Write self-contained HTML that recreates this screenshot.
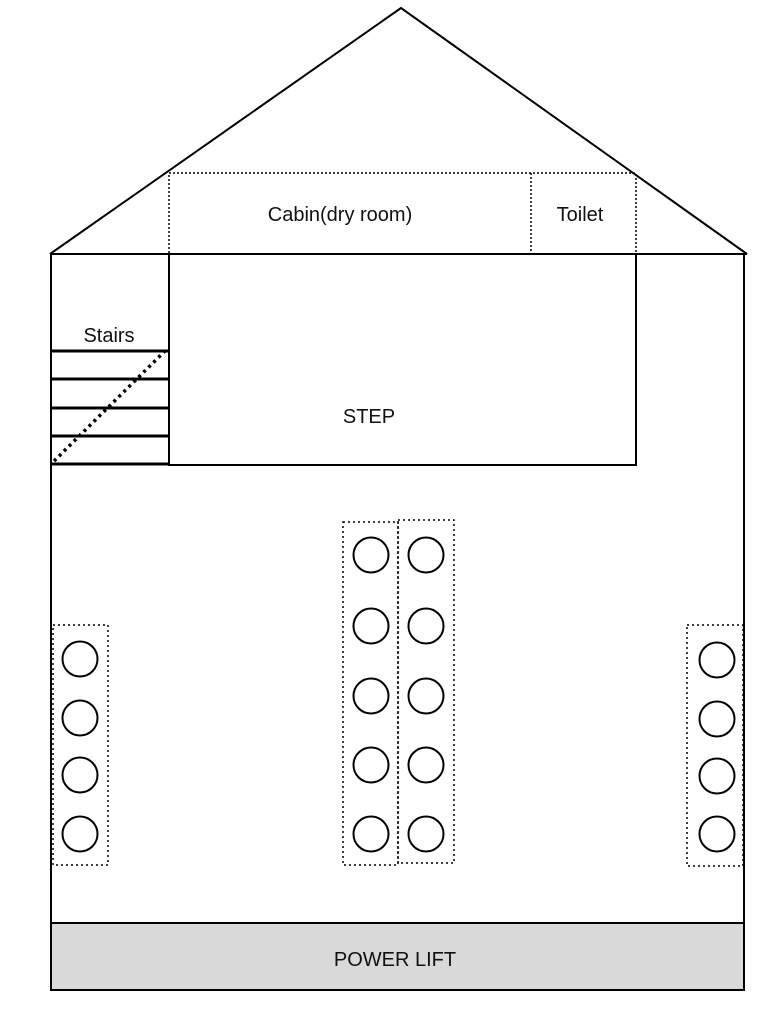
<!DOCTYPE html>
<html><head><meta charset="utf-8"><style>
html,body{margin:0;padding:0;background:#fff;width:778px;height:1024px;overflow:hidden}
text{font-family:"Liberation Sans",sans-serif;font-size:20px;fill:#111}
</style></head><body>
<svg width="778" height="1024" viewBox="0 0 778 1024" xmlns="http://www.w3.org/2000/svg">
<g fill="none" stroke="#000">
<polyline points="50,254 401,8 747,254" stroke-width="2"/>
<rect x="169" y="173" width="467" height="81" stroke-width="1.5" stroke-dasharray="2,2"/>
<line x1="531" y1="173" x2="531" y2="254" stroke-width="1.5" stroke-dasharray="2,2"/>
<line x1="50" y1="254" x2="747" y2="254" stroke-width="2"/>
<line x1="51" y1="254" x2="51" y2="990" stroke-width="2"/>
<line x1="744" y1="254" x2="744" y2="990" stroke-width="2"/>
<rect x="51" y="923" width="693" height="67" fill="#d9d9d9" stroke-width="2"/>
<rect x="169" y="254" width="467" height="211" stroke-width="2"/>
<g stroke-width="3">
<line x1="51" y1="351" x2="169" y2="351"/>
<line x1="51" y1="379" x2="169" y2="379"/>
<line x1="51" y1="408" x2="169" y2="408"/>
<line x1="51" y1="436" x2="169" y2="436"/>
<line x1="51" y1="464" x2="169" y2="464"/>
</g>
<line x1="54" y1="461" x2="166" y2="350" stroke-width="3.5" stroke-dasharray="3,4"/>
<g stroke-width="1.5" stroke-dasharray="2,3">
<rect x="53" y="625" width="55" height="240"/>
<rect x="687" y="625" width="56" height="241"/>
<rect x="343" y="522" width="55" height="343"/>
<rect x="398" y="520" width="56" height="343"/>
</g>
<g stroke-width="2">
<circle cx="80" cy="659" r="17.5"/><circle cx="80" cy="718" r="17.5"/><circle cx="80" cy="775" r="17.5"/><circle cx="80" cy="834" r="17.5"/>
<circle cx="717" cy="660" r="17.5"/><circle cx="717" cy="719" r="17.5"/><circle cx="717" cy="776" r="17.5"/><circle cx="717" cy="834" r="17.5"/>
<circle cx="371" cy="555" r="17.5"/><circle cx="371" cy="626" r="17.5"/><circle cx="371" cy="696" r="17.5"/><circle cx="371" cy="765" r="17.5"/><circle cx="371" cy="834" r="17.5"/>
<circle cx="426" cy="555" r="17.5"/><circle cx="426" cy="626" r="17.5"/><circle cx="426" cy="696" r="17.5"/><circle cx="426" cy="765" r="17.5"/><circle cx="426" cy="834" r="17.5"/>
</g>
</g>
<text x="340" y="221" text-anchor="middle">Cabin(dry room)</text>
<text x="580" y="221" text-anchor="middle">Toilet</text>
<text x="109" y="342" text-anchor="middle">Stairs</text>
<text x="369" y="423" text-anchor="middle">STEP</text>
<text x="395" y="966" text-anchor="middle">POWER LIFT</text>
</svg>
</body></html>
